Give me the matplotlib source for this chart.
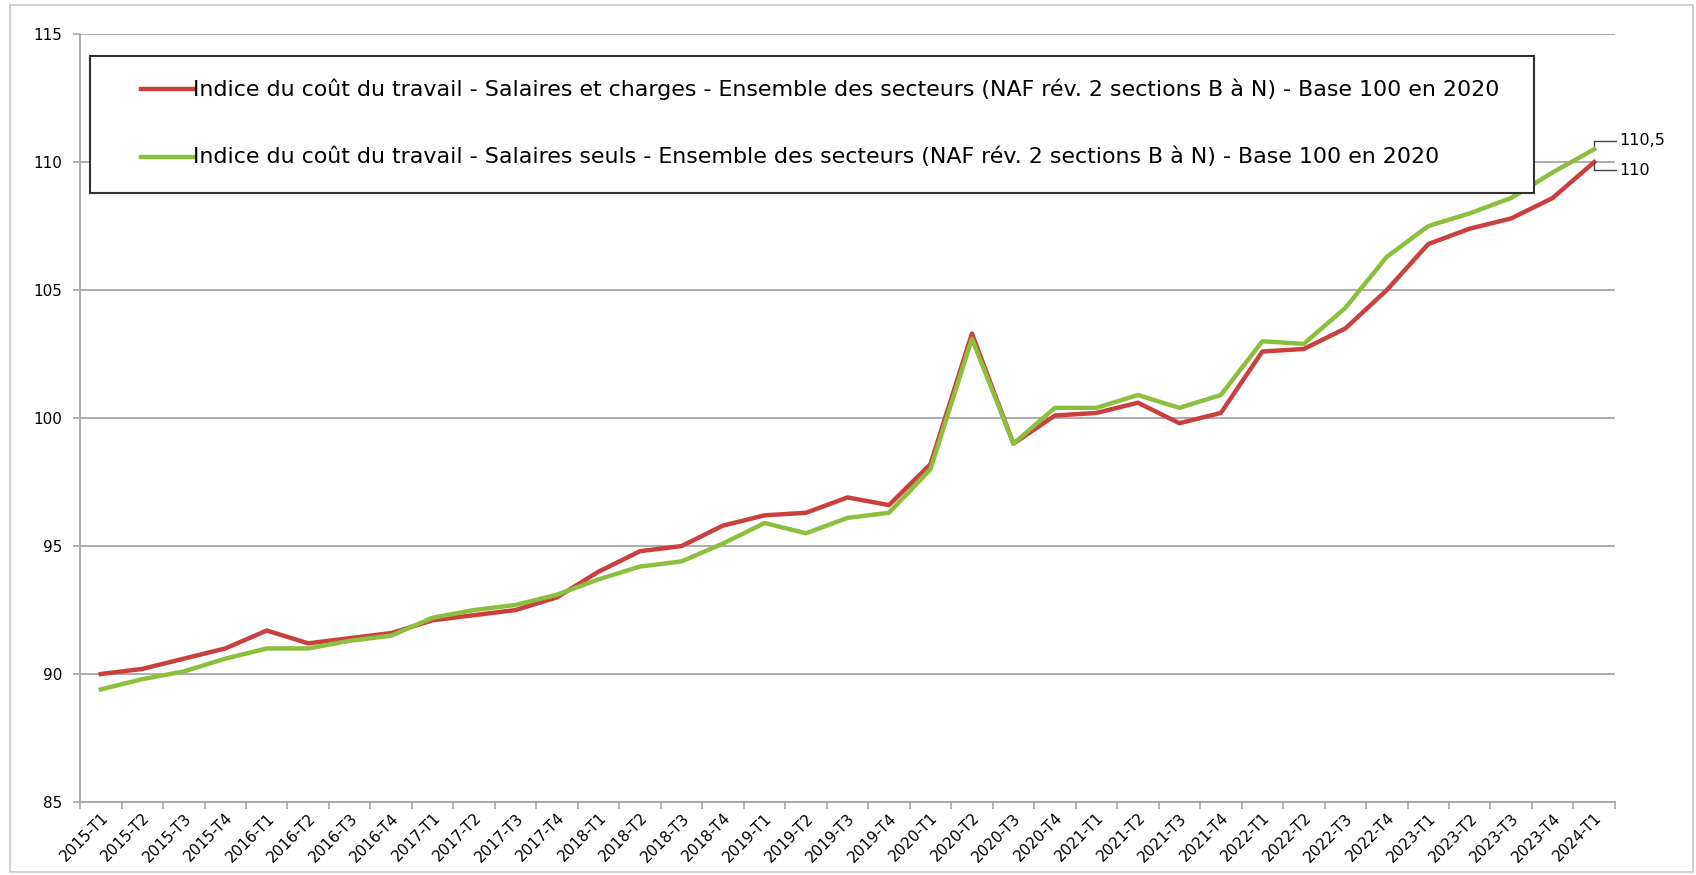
import matplotlib
matplotlib.use("Agg")
import matplotlib.pyplot as plt
from matplotlib.patches import Rectangle
from matplotlib.lines import Line2D

periods = [f"{y}-T{q}" for y in range(2015, 2024) for q in range(1, 5)] + ["2024-T1"]

salaires_charges = [90.0, 90.2, 90.6, 91.0, 91.7, 91.2, 91.4, 91.6,
                    92.1, 92.3, 92.5, 93.0, 94.0, 94.8, 95.0, 95.8,
                    96.2, 96.3, 96.9, 96.6, 98.2, 103.3, 99.0, 100.1,
                    100.2, 100.6, 99.8, 100.2, 102.6, 102.7, 103.5, 105.0,
                    106.8, 107.4, 107.8, 108.6, 110.0]
salaires_seuls = [89.4, 89.8, 90.1, 90.6, 91.0, 91.0, 91.3, 91.5,
                  92.2, 92.5, 92.7, 93.1, 93.7, 94.2, 94.4, 95.1,
                  95.9, 95.5, 96.1, 96.3, 98.0, 103.1, 99.0, 100.4,
                  100.4, 100.9, 100.4, 100.9, 103.0, 102.9, 104.3, 106.3,
                  107.5, 108.0, 108.6, 109.6, 110.5]

label_red = "Indice du coût du travail - Salaires et charges - Ensemble des secteurs (NAF rév. 2 sections B à N) - Base 100 en 2020"
label_green = "Indice du coût du travail - Salaires seuls - Ensemble des secteurs (NAF rév. 2 sections B à N) - Base 100 en 2020"
end_labels = ["110", "110,5"]

RED = "#C9403F"
GREEN = "#8DBF3F"
GRID = "#A6A6A6"

plt.rcParams['font.family'] = ['DejaVu Sans']

W, H = 1696, 875
fig = plt.figure(figsize=(W / 100, H / 100), dpi=100)
fig.patches.append(Rectangle((0.006, 0.003), 0.992, 0.991, transform=fig.transFigure,
                             fill=False, edgecolor="#C8C8C8", linewidth=1.2))
ax = fig.add_axes([0.0472, 0.0834, 0.905, 0.8776])

x = list(range(len(periods)))
ax.plot(x, salaires_charges, color=RED, linewidth=3.2, zorder=3)
ax.plot(x, salaires_seuls, color=GREEN, linewidth=3.2, zorder=4)

ax.set_xlim(-0.5, len(periods) - 0.5)
ax.set_ylim(85, 115)
ax.set_yticks([85, 90, 95, 100, 105, 110, 115])
ax.yaxis.grid(True, color=GRID, linewidth=1.3)
ax.set_axisbelow(True)

ax.set_xticks(x)
ax.set_xticklabels(periods, rotation=45, ha='right', rotation_mode='anchor', fontsize=11)
ax.tick_params(axis='x', which='major', length=0, pad=6)
ax.set_xticks([i - 0.5 for i in range(len(periods) + 1)], minor=True)
ax.tick_params(axis='x', which='minor', length=5, color=GRID, width=1.2)
ax.tick_params(axis='y', labelsize=11, length=5, color=GRID, width=1.2, pad=8)

for s in ['top', 'right']:
    ax.spines[s].set_visible(False)
for s in ['left', 'bottom']:
    ax.spines[s].set_color(GRID)
    ax.spines[s].set_linewidth(1.3)

# end labels
last = len(periods) - 1
for val, lab, dy in [(salaires_seuls[-1], end_labels[1], 6), (salaires_charges[-1], end_labels[0], -6)]:
    ax.annotate(lab, xy=(last, val), xytext=(18, dy),
                textcoords='offset points', fontsize=11.5, va='center', ha='left',
                arrowprops=dict(arrowstyle='-', color='#404040', lw=1,
                                connectionstyle='angle,angleA=0,angleB=90,rad=0',
                                shrinkA=0, shrinkB=0))

# legend box (manual, pixel-placed)
def fx(px):
    return px / W

def fy(py):
    return 1 - py / H

box_l, box_r, box_t, box_b = 90, 1534, 56, 193
fig.patches.append(Rectangle((fx(box_l), fy(box_b)), fx(box_r) - fx(box_l), fy(box_t) - fy(box_b),
                             transform=fig.transFigure, facecolor='white', edgecolor='#303030',
                             linewidth=1.5, zorder=10))
for color, text, py in [(RED, label_red, 89), (GREEN, label_green, 157)]:
    fig.lines.append(Line2D([fx(141), fx(193)], [fy(py), fy(py)], transform=fig.transFigure,
                            color=color, linewidth=3.2, zorder=11))
    fig.text(fx(193), fy(py), text, fontsize=15.9, va='center', ha='left', zorder=12)

fig.savefig("out.png", dpi=100)
